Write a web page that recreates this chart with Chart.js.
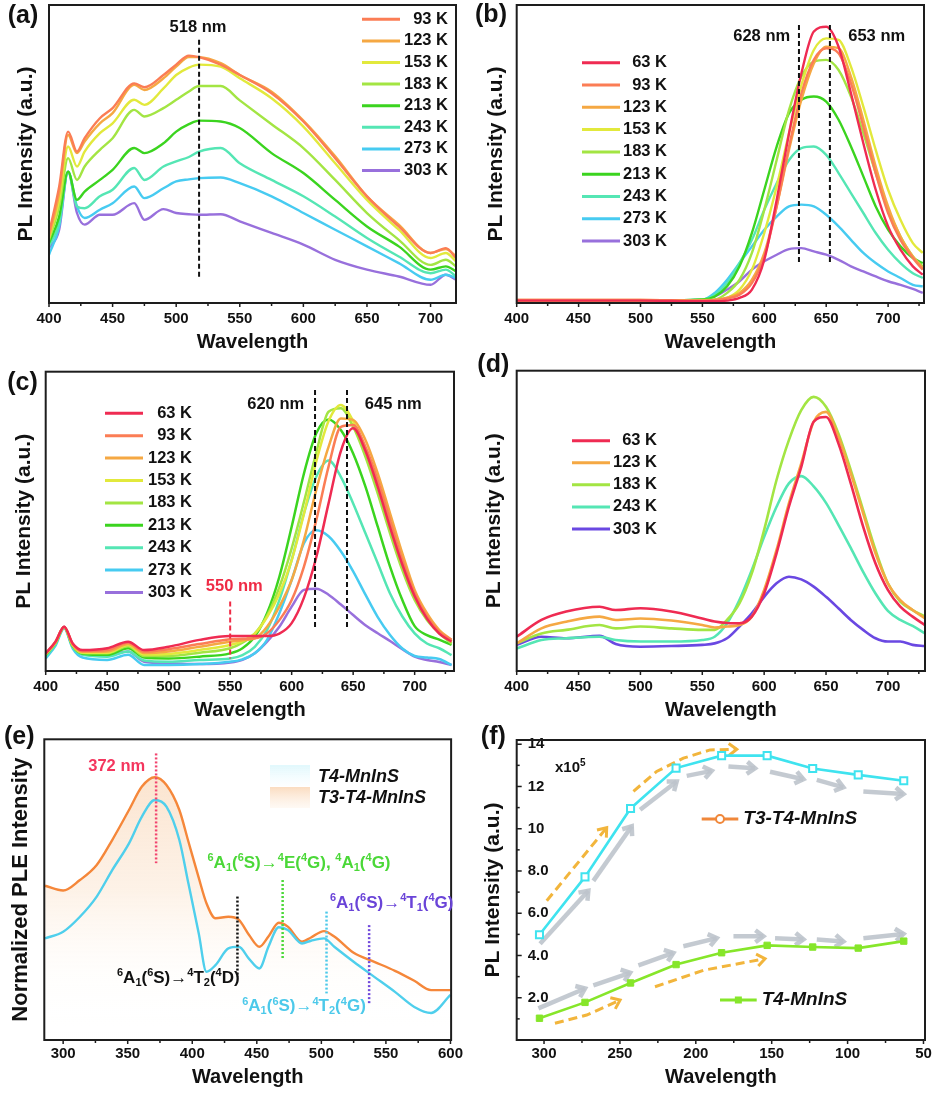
<!DOCTYPE html>
<html>
<head>
<meta charset="utf-8">
<script src="https://cdn.jsdelivr.net/npm/chart.js@4.4.1/dist/chart.umd.min.js"></script>
<style>
  body { margin: 0; background: #fff; width: 937px; height: 1093px; position: relative; overflow: hidden; }
  canvas { position: absolute; }
</style>
</head>
<body>
<canvas id="pa" width="468" height="356" style="left:0;top:0"></canvas>
<canvas id="pb" width="469" height="356" style="left:468px;top:0"></canvas>
<canvas id="pc" width="468" height="380" style="left:0;top:346px"></canvas>
<canvas id="pd" width="469" height="380" style="left:468px;top:346px"></canvas>
<canvas id="pe" width="468" height="373" style="left:0;top:720px"></canvas>
<canvas id="pf" width="469" height="373" style="left:468px;top:720px"></canvas>
<script>
// valeurs, intensités normalisées 0..1 (a-e)
const ticksVis = [400, 450, 500, 550, 600, 650, 700];
const ticksE = [300, 350, 400, 450, 500, 550, 600];
const ticksFx = [300, 250, 200, 150, 100, 50];
const ticksFy = [2, 4, 6, 8, 10, 12, 14];

// (a)
const waveA = [400, 408, 415, 422, 428, 440, 450, 467, 475, 490, 500, 510, 518, 535, 550, 575, 600, 625, 650, 675, 700, 712, 720];
const tempsA = ['93 K', '123 K', '153 K', '183 K', '213 K', '243 K', '273 K', '303 K'];
const a93  = [.235, .39, .575, .508, .553, .62, .654, .737, .724, .765, .80, .83, .825, .80, .765, .704, .609, .486, .358, .257, .168, .184, .151];
const a123 = [.223, .368, .564, .503, .542, .603, .637, .732, .715, .754, .793, .825, .825, .805, .765, .709, .612, .492, .358, .263, .168, .181, .156];
const a153 = [.218, .346, .525, .458, .508, .57, .603, .682, .665, .72, .765, .79, .80, .793, .754, .687, .592, .469, .346, .246, .151, .168, .14];
const a183 = [.212, .324, .486, .413, .458, .514, .553, .648, .626, .654, .682, .71, .728, .728, .68, .60, .52, .413, .302, .212, .128, .145, .123];
const a213 = [.201, .29, .441, .346, .374, .413, .447, .52, .503, .536, .575, .60, .612, .609, .587, .503, .436, .346, .257, .19, .112, .123, .106];
const a243 = [.19, .268, .441, .324, .318, .358, .38, .453, .413, .458, .475, .49, .508, .52, .469, .413, .358, .29, .218, .156, .10, .112, .089];
const a273 = [.162, .257, .441, .324, .285, .313, .335, .391, .352, .385, .408, .415, .419, .421, .402, .358, .302, .246, .19, .134, .078, .095, .084];
const a303 = [.184, .246, .441, .302, .263, .296, .296, .335, .279, .315, .302, .298, .296, .298, .274, .235, .196, .145, .112, .089, .061, .095, .078];
const peakA = [518];

// (b)
const waveB = [400, 450, 500, 550, 560, 570, 580, 590, 600, 610, 620, 630, 640, 650, 660, 670, 680, 690, 700, 710, 720, 728];
const tempsB = ['63 K', '93 K', '123 K', '153 K', '183 K', '213 K', '243 K', '273 K', '303 K'];
const b63  = [.008, .008, .008, .006, .006, .008, .017, .045, .145, .346, .57, .771, .911, .927, .86, .704, .536, .38, .257, .179, .123, .095];
const b93  = [.01, .01, .01, .008, .01, .015, .028, .067, .156, .324, .525, .704, .816, .855, .838, .737, .592, .436, .302, .212, .151, .112];
const b123 = [.01, .01, .01, .008, .01, .018, .034, .078, .168, .324, .514, .682, .804, .86, .855, .76, .615, .458, .324, .223, .156, .117];
const b153 = [.008, .008, .008, .008, .01, .017, .045, .112, .235, .391, .57, .732, .849, .888, .883, .793, .659, .514, .38, .279, .201, .168];
const b183 = [.008, .008, .008, .01, .012, .034, .078, .168, .313, .48, .648, .76, .81, .816, .782, .693, .57, .436, .313, .223, .156, .123];
const b213 = [.008, .008, .008, .012, .022, .056, .123, .235, .38, .525, .637, .682, .693, .676, .615, .525, .425, .324, .246, .19, .151, .134];
const b243 = [.008, .008, .008, .012, .028, .067, .134, .212, .313, .402, .48, .52, .525, .497, .436, .369, .302, .235, .179, .134, .10, .084];
const b273 = [.008, .008, .008, .011, .034, .078, .134, .19, .246, .29, .324, .33, .324, .296, .257, .212, .168, .134, .106, .084, .061, .056];
const b303 = [.008, .008, .008, .011, .022, .045, .073, .112, .14, .162, .181, .184, .173, .162, .145, .123, .106, .089, .073, .061, .047, .034];
const peaksB = [628, 653];

// (c)
const waveC = [400, 408, 415, 422, 430, 450, 467, 480, 500, 525, 550, 560, 570, 580, 590, 600, 610, 620, 630, 640, 650, 660, 670, 680, 690, 700, 710, 720, 730];
const tempsC = tempsB;
const c63  = [.059, .098, .148, .092, .07, .076, .098, .07, .081, .104, .117, .117, .117, .117, .125, .16, .245, .38, .56, .735, .811, .735, .615, .48, .355, .25, .175, .125, .098];
const c93  = [.059, .098, .148, .09, .067, .07, .095, .065, .073, .09, .106, .108, .109, .126, .17, .237, .349, .504, .683, .816, .822, .749, .638, .504, .371, .259, .182, .131, .104];
const c123 = [.057, .096, .146, .088, .064, .065, .09, .06, .065, .081, .098, .103, .109, .148, .215, .304, .438, .605, .749, .844, .839, .772, .66, .527, .393, .271, .193, .137, .104];
const c153 = [.056, .095, .146, .086, .062, .061, .087, .055, .057, .07, .087, .10, .125, .18, .258, .37, .525, .70, .835, .889, .835, .74, .62, .495, .365, .258, .185, .135, .098];
const c183 = [.056, .095, .146, .085, .06, .059, .083, .05, .05, .061, .076, .095, .125, .185, .28, .41, .565, .73, .866, .878, .816, .716, .593, .46, .337, .237, .17, .126, .092];
const c213 = [.054, .094, .146, .083, .058, .054, .076, .045, .042, .048, .059, .076, .115, .193, .315, .482, .66, .794, .84, .805, .727, .616, .482, .349, .237, .15, .12, .105, .087];
const c243 = [.048, .09, .146, .08, .055, .048, .065, .035, .031, .037, .042, .053, .081, .137, .237, .371, .527, .649, .703, .649, .56, .46, .36, .259, .182, .126, .092, .076, .053];
const c273 = [.042, .085, .142, .075, .045, .037, .054, .02, .02, .023, .031, .039, .059, .104, .193, .304, .427, .47, .45, .40, .333, .255, .18, .12, .075, .05, .045, .04, .02];
const c303 = [.048, .09, .148, .081, .055, .053, .065, .031, .026, .023, .028, .037, .059, .098, .148, .215, .271, .275, .255, .222, .187, .153, .126, .10, .073, .048, .037, .03, .02];
const peaksC = [619, 645];
const edgeC = [550];

// (d)
const waveD = [400, 420, 440, 467, 480, 500, 525, 550, 560, 570, 580, 590, 600, 610, 620, 630, 640, 650, 660, 670, 680, 690, 700, 710, 720, 730];
const tempsD = ['63 K', '123 K', '183 K', '243 K', '303 K'];
const d63  = [.114, .17, .198, .214, .203, .209, .198, .175, .165, .16, .159, .181, .259, .392, .547, .68, .83, .846, .758, .625, .481, .358, .27, .214, .181, .153];
const d123 = [.092, .142, .164, .181, .17, .175, .168, .153, .145, .148, .153, .181, .27, .403, .558, .691, .83, .863, .78, .658, .525, .392, .292, .236, .203, .175];
const d183 = [.092, .125, .137, .153, .142, .148, .142, .137, .137, .17, .225, .325, .47, .636, .769, .869, .913, .88, .791, .669, .536, .403, .292, .231, .203, .181];
const d243 = [.075, .103, .109, .114, .103, .098, .098, .103, .114, .159, .236, .336, .447, .547, .625, .649, .615, .56, .487, .41, .33, .258, .20, .17, .15, .125];
const d303 = [.087, .114, .109, .117, .09, .081, .083, .087, .092, .109, .148, .192, .247, .292, .314, .305, .281, .247, .209, .17, .137, .109, .098, .098, .087, .083];

// (e)
const waveE = [286, 300, 313, 326, 338, 351, 361, 371, 380, 390, 397, 405, 411, 418, 428, 436, 444, 452, 459, 467, 474, 485, 492, 502, 510, 525, 541, 557, 572, 585, 600];
const samplesE = ['T4-MnInS', 'T3-T4-MnInS'];
const pleT4   = [.338, .36, .41, .477, .565, .654, .743, .798, .776, .665, .521, .355, .227, .249, .305, .31, .27, .238, .31, .375, .366, .321, .33, .338, .31, .26, .21, .16, .11, .09, .15];
const pleT3T4 = [.513, .497, .532, .582, .665, .765, .843, .874, .848, .765, .66, .54, .455, .405, .41, .40, .349, .31, .344, .39, .377, .327, .341, .362, .344, .29, .26, .23, .197, .166, .166];
const transE = [372, 435, 470, 504, 537];

// (f)
const tempF = [303, 273, 243, 213, 183, 153, 123, 93, 63];
const intT3T4 = [4.98, 7.72, 10.96, 12.87, 13.46, 13.46, 12.85, 12.55, 12.27];
const intT4 = [1.03, 1.78, 2.7, 3.57, 4.13, 4.48, 4.4, 4.35, 4.68];
const grayUp = [
  [[302.6, 4.56], [270.8, 7.06]], [[267.5, 7.53], [242.2, 10.12]], [[236.7, 10.9], [212.6, 12.24]],
  [[206, 12.5], [189.5, 12.74]], [[178.5, 12.94], [161, 12.86]], [[151.1, 12.7], [129.1, 12.34]],
  [[120.3, 12.31], [102.8, 11.96]], [[89.6, 11.76], [63.2, 11.64]]
];
const grayLow = [
  [[303.7, 1.5], [273, 2.44]], [[267.5, 2.59], [243.3, 3.18]], [[237.8, 3.53], [214.8, 4.12]],
  [[208.2, 4.44], [186.2, 4.82]], [[175.2, 4.91], [155.5, 4.91]], [[147.8, 4.82], [129.1, 4.76]],
  [[120.3, 4.76], [102.8, 4.66]], [[89.6, 4.82], [63.2, 5.02]]
];
const goldUp = [
  [[298.2, 6.59], [258.7, 10.05]],
  [[241.1, 11.77], [225.8, 12.71], [208.2, 13.34], [190.6, 13.73], [173, 13.76]]
];
const goldLow = [
  [[292.8, 0.79], [271.9, 1.18], [249.9, 1.89]],
  [[226.9, 2.52], [195, 3.3], [154.4, 3.85]]
];

const FONT = '"Liberation Sans", Arial, Helvetica, sans-serif';
Chart.defaults.font.family = FONT;
Chart.defaults.font.weight = 'bold';
Chart.defaults.color = '#111';

const COL = {
  '63 K': '#ef2b52', '93 K': '#fb7d55', '123 K': '#f5a843', '153 K': '#e2e93c', '183 K': '#a3e543',
  '213 K': '#3bd41f', '243 K': '#55e6b4', '273 K': '#47cbf1', '303 K': '#9870dc'
};

function richParts(str) {
  const parts = [];
  for (let i = 0; i < str.length; i++) {
    const c = str[i];
    if ((c === '^' || c === '_') && i + 1 < str.length) { parts.push({ t: str[i + 1], k: c }); i++; }
    else parts.push({ t: c, k: '' });
  }
  return parts;
}

function drawRich(ctx, t) {
  const size = t.size || 17;
  const big = (t.italic ? 'italic ' : '') + 'bold ' + size + 'px ' + FONT;
  const small = 'bold ' + Math.round(size * 0.64) + 'px ' + FONT;
  const parts = richParts(t.text);
  let w = 0;
  parts.forEach(p => { ctx.font = p.k ? small : big; p.w = ctx.measureText(p.t).width; w += p.w; });
  let xx = t.align === 'left' ? t.x : t.align === 'right' ? t.x - w : t.x - w / 2;
  ctx.fillStyle = t.color || '#111';
  ctx.textBaseline = 'middle';
  ctx.textAlign = 'left';
  parts.forEach(p => {
    ctx.font = p.k ? small : big;
    const dy = p.k === '^' ? -size * 0.3 : p.k === '_' ? size * 0.25 : 0;
    ctx.fillText(p.t, xx, t.y + dy);
    xx += p.w;
  });
}

function drawArrow(ctx, pts, color, w, dash, head) {
  ctx.strokeStyle = color;
  ctx.lineWidth = w;
  ctx.lineCap = 'butt';
  ctx.setLineDash(dash);
  ctx.beginPath();
  pts.forEach((p, i) => i ? ctx.lineTo(p[0], p[1]) : ctx.moveTo(p[0], p[1]));
  ctx.stroke();
  const [x0, y0] = pts[pts.length - 2], [x1, y1] = pts[pts.length - 1];
  const a = Math.atan2(y1 - y0, x1 - x0);
  ctx.setLineDash([]);
  ctx.lineJoin = 'miter';
  ctx.beginPath();
  ctx.moveTo(x1 - head * Math.cos(a - 0.65), y1 - head * Math.sin(a - 0.65));
  ctx.lineTo(x1, y1);
  ctx.lineTo(x1 - head * Math.cos(a + 0.65), y1 - head * Math.sin(a + 0.65));
  ctx.stroke();
}

// décor de chaque panneau (positions en px du canvas)
const DECOR = {
  pa: {
    label: [23, 16],
    vlines: [{ x: peakA[0], y0: .883, y1: .084, color: '#111', dash: [5, 3] }],
    texts: [{ text: peakA[0] + ' nm', x: 198, y: 27, size: 16.5 }],
    legend: { x0: 362, x1: 400, tr: 448, y0: 19.3, dy: 21.6 }
  },
  pb: {
    label: [23, 15],
    vlines: peaksB.map(v => ({ x: v, y0: .933, y1: .128, color: '#111', dash: [5, 3] })),
    texts: [
      { text: peaksB[0] + ' nm', x: 293.7, y: 36, size: 16.5 },
      { text: peaksB[1] + ' nm', x: 408.7, y: 36, size: 16.5 }
    ],
    legend: { x0: 114, x1: 152, tr: 199, y0: 62.7, dy: 22.3 }
  },
  pc: {
    label: [22.5, 37.3],
    vlines: [
      { x: peaksC[0], y0: .939, y1: .137, color: '#111', dash: [5, 3] },
      { x: peaksC[1], y0: .939, y1: .137, color: '#111', dash: [5, 3] },
      { x: edgeC[0], y0: .232, y1: .042, color: '#ef2b45', dash: [5, 3] }
    ],
    texts: [
      { text: '620 nm', x: 275.7, y: 58.3, size: 16.5 },
      { text: peaksC[1] + ' nm', x: 393.3, y: 58.3, size: 16.5 },
      { text: edgeC[0] + ' nm', x: 234.3, y: 240.7, size: 16.5, color: '#ef2b45' }
    ],
    legend: { x0: 105, x1: 143, tr: 192, y0: 67.3, dy: 22.4 }
  },
  pd: {
    label: [25.3, 19],
    legend: { x0: 104, x1: 142, tr: 189, y0: 94.7, dy: 22.07 }
  },
  pe: {
    label: [19.2, 16.7],
    vlines: [
      { x: transE[0], y0: .953, y1: .588, color: '#f2456f', dash: [2, 2], w: 2.5 },
      { x: transE[1], y0: .477, y1: .21, color: '#111', dash: [2, 2], w: 2.5 },
      { x: transE[2], y0: .532, y1: .266, color: '#4bd838', dash: [2, 2], w: 2.5 },
      { x: transE[3], y0: .427, y1: .155, color: '#4cc9ea', dash: [2, 2], w: 2.5 },
      { x: transE[4], y0: .382, y1: .122, color: '#7048dc', dash: [2, 2], w: 2.5 }
    ],
    texts: [
      { text: transE[0] + ' nm', x: 116.7, y: 46.7, size: 16.5, color: '#f4365e' },
      { text: '^6A_1(^6S)\u2192^4E(^4G), ^4A_1(^4G)', x: 299, y: 143.3, color: '#4bd838' },
      { text: '^6A_1(^6S)\u2192^4T_1(^4G)', x: 391.7, y: 183.3, color: '#6a44d8' },
      { text: '^6A_1(^6S)\u2192^4T_2(^4D)', x: 178.3, y: 258.3, color: '#111' },
      { text: '^6A_1(^6S)\u2192^4T_2(^4G)', x: 304, y: 286.7, color: '#4cc9ea' }
    ],
    swatches: [
      { x: 270, y: 45, w: 40, h: 21, top: 'rgba(200,242,250,0.55)', bot: 'rgba(245,252,255,0.3)', text: samplesE[0], ty: 56.7 },
      { x: 270, y: 67, w: 40, h: 21, top: 'rgba(246,196,150,0.6)', bot: 'rgba(255,240,225,0.35)', text: samplesE[1], ty: 78.3 }
    ]
  },
  pf: {
    label: [25.3, 16.7],
    yTicks: true,
    texts: [{ text: 'x10^5', x: 87, y: 48, size: 15, align: 'left' }],
    arrows: [
      ...grayUp.map(p => ({ pts: p, color: 'rgba(190,196,204,0.9)', w: 4.5, dash: [], head: 10 })),
      ...grayLow.map(p => ({ pts: p, color: 'rgba(190,196,204,0.9)', w: 4.5, dash: [], head: 10 })),
      ...goldUp.map(p => ({ pts: p, color: '#f2b53c', w: 3, dash: [9, 5], head: 10 })),
      ...goldLow.map(p => ({ pts: p, color: '#f2b53c', w: 3, dash: [9, 5], head: 10 }))
    ],
    fLegend: [
      { x0: 233.7, x1: 270.3, y: 99, color: '#f0873a', marker: 'circle', text: 'T3-T4-MnInS' },
      { x0: 252, x1: 288.7, y: 280, color: '#86e62a', marker: 'square', text: 'T4-MnInS' }
    ]
  }
};

const decor = {
  id: 'decor',
  beforeDatasetsDraw(chart) {
    const d = DECOR[chart.canvas.id];
    if (!d || !d.arrows) return;
    const { ctx, chartArea: ca, scales: { x, y } } = chart;
    ctx.save();
    ctx.beginPath();
    ctx.rect(ca.left, ca.top, ca.width, ca.height);
    ctx.clip();
    d.arrows.forEach(a => {
      const pts = a.pts.map(p => [x.getPixelForValue(p[0]), y.getPixelForValue(p[1])]);
      drawArrow(ctx, pts, a.color, a.w, a.dash, a.head);
    });
    ctx.restore();
  },
  afterDatasetsDraw(chart) {
    const d = DECOR[chart.canvas.id];
    if (!d || !d.vlines) return;
    const { ctx, scales: { x, y } } = chart;
    ctx.save();
    d.vlines.forEach(v => {
      const px = x.getPixelForValue(v.x);
      ctx.beginPath();
      ctx.setLineDash(v.dash);
      ctx.lineWidth = v.w || 2;
      ctx.strokeStyle = v.color;
      ctx.moveTo(px, y.getPixelForValue(v.y0));
      ctx.lineTo(px, y.getPixelForValue(v.y1));
      ctx.stroke();
    });
    ctx.restore();
  },
  afterDraw(chart) {
    const d = DECOR[chart.canvas.id] || {};
    const { ctx, chartArea: ca, scales: { x, y } } = chart;
    ctx.save();
    ctx.setLineDash([]);
    // cadre
    ctx.strokeStyle = '#1d1d1d';
    ctx.lineWidth = 2;
    ctx.strokeRect(ca.left, ca.top, ca.width, ca.height);
    // graduations de l'axe x
    ctx.lineWidth = 1.5;
    const maj = x.ticks.map(t => t.value);
    const step = maj[1] - maj[0];
    const lo = Math.min(x.min, x.max), hi = Math.max(x.min, x.max);
    maj.forEach(v => {
      const px = x.getPixelForValue(v);
      ctx.beginPath(); ctx.moveTo(px, ca.bottom); ctx.lineTo(px, ca.bottom + 4); ctx.stroke();
    });
    [maj[0] - step / 2, ...maj.map(v => v + step / 2)].forEach(m => {
      if (m <= lo || m >= hi) return;
      const px = x.getPixelForValue(m);
      ctx.beginPath(); ctx.moveTo(px, ca.bottom); ctx.lineTo(px, ca.bottom + 3); ctx.stroke();
    });
    if (d.yTicks) {
      const ym = y.ticks.map(t => t.value);
      ym.forEach(v => {
        const py = y.getPixelForValue(v);
        ctx.beginPath(); ctx.moveTo(ca.left, py); ctx.lineTo(ca.left + 5, py); ctx.stroke();
        const m = v - (ym[1] - ym[0]) / 2;
        if (m > y.min) {
          const pm = y.getPixelForValue(m);
          ctx.beginPath(); ctx.moveTo(ca.left, pm); ctx.lineTo(ca.left + 3, pm); ctx.stroke();
        }
      });
    }
    // légende des températures
    if (d.legend) {
      const L = d.legend;
      chart.data.datasets.forEach((ds, i) => {
        const yy = L.y0 + i * L.dy;
        ctx.strokeStyle = ds.borderColor;
        ctx.lineWidth = 3;
        ctx.beginPath(); ctx.moveTo(L.x0, yy); ctx.lineTo(L.x1, yy); ctx.stroke();
        ctx.fillStyle = '#111';
        ctx.font = 'bold 16.5px ' + FONT;
        ctx.textAlign = 'right';
        ctx.textBaseline = 'middle';
        ctx.fillText(ds.label, L.tr, yy);
      });
    }
    if (d.swatches) {
      d.swatches.forEach(s => {
        const g = ctx.createLinearGradient(0, s.y, 0, s.y + s.h);
        g.addColorStop(0, s.top);
        g.addColorStop(1, s.bot);
        ctx.fillStyle = g;
        ctx.fillRect(s.x, s.y, s.w, s.h);
        drawRich(ctx, { text: s.text, x: s.x + 48, y: s.ty, size: 18, italic: true, align: 'left' });
      });
    }
    if (d.fLegend) {
      d.fLegend.forEach(e => {
        ctx.strokeStyle = e.color;
        ctx.lineWidth = 3;
        ctx.beginPath(); ctx.moveTo(e.x0, e.y); ctx.lineTo(e.x1, e.y); ctx.stroke();
        const cx = (e.x0 + e.x1) / 2;
        if (e.marker === 'circle') {
          ctx.fillStyle = '#fff';
          ctx.lineWidth = 2;
          ctx.beginPath(); ctx.arc(cx, e.y, 4, 0, Math.PI * 2); ctx.fill(); ctx.stroke();
        } else {
          ctx.fillStyle = e.color;
          ctx.fillRect(cx - 3.5, e.y - 3.5, 7, 7);
        }
        drawRich(ctx, { text: e.text, x: e.x1 + 5, y: e.y, size: 19, italic: true, align: 'left' });
      });
    }
    (d.texts || []).forEach(t => drawRich(ctx, t));
    if (d.label) {
      ctx.fillStyle = '#111';
      ctx.font = 'bold 25px ' + FONT;
      ctx.textAlign = 'center';
      ctx.textBaseline = 'middle';
      ctx.fillText('(' + chart.canvas.id.slice(1) + ')', d.label[0], d.label[1]);
    }
    ctx.restore();
  }
};

function panel(id, p) {
  const sets = p.series.map((ys, i) => Object.assign({
    label: p.labels[i],
    data: p.x.map((xv, j) => ({ x: xv, y: ys[j] })),
    borderColor: p.colors[i],
    borderWidth: p.lw || 2.4,
    pointRadius: 0,
    cubicInterpolationMode: 'monotone',
    fill: false
  }, p.extra ? p.extra[i] : {}));
  const yScale = {
    min: p.ymin, max: p.ymax,
    grid: { display: false, drawTicks: false },
    border: { display: false },
    ticks: p.yticks ? {
      mirror: true, padding: 11, color: '#111', font: { size: 15, weight: 'bold' },
      callback: v => v >= 10 ? String(v) : v.toFixed(1)
    } : { display: false },
    afterFit: s => { s.width = p.yw; },
    title: {
      display: true, text: p.ytitle || 'PL Intensity (a.u.)', color: '#111',
      font: { size: p.ytsize || 21, weight: 'bold' }, padding: { top: p.ytpad, bottom: 0 }
    }
  };
  if (p.yticks) yScale.afterBuildTicks = s => { s.ticks = p.yticks.map(v => ({ value: v })); };
  return new Chart(document.getElementById(id), {
    type: 'line',
    data: { datasets: sets },
    options: {
      responsive: false,
      animation: false,
      events: [],
      layout: { padding: { left: 0, top: p.top, right: p.right, bottom: 0 } },
      plugins: { legend: { display: false }, tooltip: { enabled: false } },
      scales: {
        x: {
          type: 'linear', min: p.xmin, max: p.xmax, reverse: !!p.reverse,
          grid: { display: false, drawTicks: false },
          border: { display: false },
          ticks: { color: '#111', font: { size: 15, weight: 'bold' }, padding: p.tpad },
          afterBuildTicks: s => { s.ticks = p.xticks.map(v => ({ value: v })); },
          afterFit: s => { s.height = p.xh; },
          title: {
            display: true, text: 'Wavelength', color: '#111',
            font: { size: 20, weight: 'bold' }, padding: { top: 0, bottom: p.xtpad }
          }
        },
        y: yScale
      }
    },
    plugins: [decor]
  });
}

panel('pa', {
  x: waveA, labels: tempsA, series: [a93, a123, a153, a183, a213, a243, a273, a303],
  colors: tempsA.map(t => COL[t]), xmin: 400, xmax: 720, xticks: ticksVis, ymin: 0, ymax: 1,
  top: 5, right: 12, yw: 49, xh: 53, tpad: 7, xtpad: 2, ytpad: 13.4
});
panel('pb', {
  x: waveB, labels: tempsB, series: [b63, b93, b123, b153, b183, b213, b243, b273, b303],
  colors: tempsB.map(t => COL[t]), xmin: 400, xmax: 729, xticks: ticksVis, ymin: 0, ymax: 1,
  top: 5, right: 13, yw: 48.7, xh: 53, tpad: 7, xtpad: 2, ytpad: 15.2
});
panel('pc', {
  x: waveC, labels: tempsC, series: [c63, c93, c123, c153, c183, c213, c243, c273, c303],
  colors: tempsC.map(t => COL[t]), xmin: 400, xmax: 732, xticks: ticksVis, ymin: 0, ymax: 1,
  top: 25.7, right: 14, yw: 45.7, xh: 55, tpad: 7, xtpad: 4, ytpad: 11.6, lw: 2.5
});
panel('pd', {
  x: waveD, labels: tempsD, series: [d63, d123, d183, d243, d303],
  colors: ['#ef2b52', '#f5a843', '#a3e543', '#55e6b4', '#6a48e2'], xmin: 400, xmax: 730, xticks: ticksVis, ymin: 0, ymax: 1,
  top: 24.7, right: 12, yw: 48.7, xh: 55, tpad: 7, xtpad: 4, ytpad: 13.4, lw: 2.6
});

function peachFill(c) {
  const ch = c.chart, ca = ch.chartArea;
  if (!ca) return 'rgba(0,0,0,0)';
  const g = ch.ctx.createLinearGradient(0, ca.top, 0, ca.bottom);
  g.addColorStop(0, 'rgba(246,196,150,0.55)');
  g.addColorStop(0.5, 'rgba(250,220,192,0.38)');
  g.addColorStop(0.78, 'rgba(255,244,232,0.12)');
  g.addColorStop(1, 'rgba(255,255,255,0)');
  return g;
}

panel('pe', {
  x: waveE, labels: samplesE, series: [pleT4, pleT3T4],
  colors: ['#4fcfec', '#f5873a'], xmin: 285.4, xmax: 600.5, xticks: ticksE, ymin: 0, ymax: 1,
  top: 19.3, right: 14, yw: 44.3, xh: 53, tpad: 5, xtpad: 4, ytpad: 8.2, ytsize: 22,
  ytitle: 'Normalized PLE Intensity', lw: 2.4,
  extra: [{}, { fill: 'origin', backgroundColor: peachFill, order: 1 }]
});

panel('pf', {
  x: tempF, labels: ['T3-T4-MnInS', 'T4-MnInS'], series: [intT3T4, intT4],
  colors: ['#3fe3ef', '#86e62a'], xmin: 49, xmax: 318, reverse: true, xticks: ticksFx,
  ymin: 0, ymax: 14.2, yticks: ticksFy,
  top: 20, right: 12, yw: 48.7, xh: 53, tpad: 5, xtpad: 4, ytpad: 12.4, lw: 2.6,
  extra: [
    { cubicInterpolationMode: 'default', tension: 0, pointRadius: 5, pointStyle: 'rect', pointBackgroundColor: '#fff', pointBorderColor: '#3fe3ef', pointBorderWidth: 2 },
    { cubicInterpolationMode: 'default', tension: 0, pointRadius: 4.5, pointStyle: 'rect', pointBackgroundColor: '#86e62a', pointBorderColor: '#86e62a', pointBorderWidth: 1 }
  ]
});
</script>
</body>
</html>
